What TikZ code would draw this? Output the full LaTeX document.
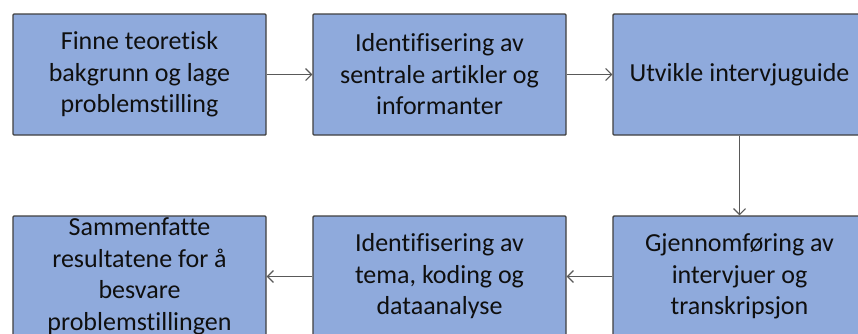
\documentclass[tikz,border=0pt]{standalone}
\usepackage{fontspec}
\setmainfont{Carlito}[Ligatures=NoCommon]
\usetikzlibrary{arrows.meta}
\definecolor{boxfill}{RGB}{143,170,220}
\definecolor{boxline}{RGB}{64,64,64}
\definecolor{arrowline}{RGB}{89,89,89}
\definecolor{textcol}{RGB}{15,15,15}
\tikzset{
  stepbox/.style={draw=boxline, line width=1.4pt, fill=boxfill, rounded corners=1pt,
    minimum width=253pt, minimum height=121pt, inner sep=0pt, align=center,
    text=textcol, font=\fontsize{26}{31.5}\selectfont},
  flow/.style={draw=arrowline, line width=1.3pt, -{Straight Barb[length=6pt,width=12pt,line width=1.1pt]}}
}
\begin{document}
\begin{tikzpicture}[x=1pt,y=-1pt]
\clip (0,0) rectangle (858,333);
\fill[white] (0,0) rectangle (858,333);
% top row
\node[stepbox] (a) at (139.5,74.5) {Finne teoretisk\\bakgrunn og lage\\problemstilling};
\node[stepbox] (b) at (439.5,74.5) {Identifisering av\\sentrale artikler og\\informanter};
\node[stepbox] (c) at (739.5,74.5) {Utvikle intervjuguide};
% bottom row
\node[stepbox] (d) at (739.5,276.5) {Gjennomføring av\\intervjuer og\\transkripsjon};
\node[stepbox] (e) at (439.5,276.5) {Identifisering av\\tema, koding og\\dataanalyse};
\node[stepbox] (f) at (139.5,276.5) {Sammenfatte\\resultatene for å\\besvare\\problemstillingen};
% connectors
\draw[flow] (a) -- (b);
\draw[flow] (b) -- (c);
\draw[flow] (c) -- (d);
\draw[flow] (d) -- (e);
\draw[flow] (e) -- (f);
\end{tikzpicture}
\end{document}
